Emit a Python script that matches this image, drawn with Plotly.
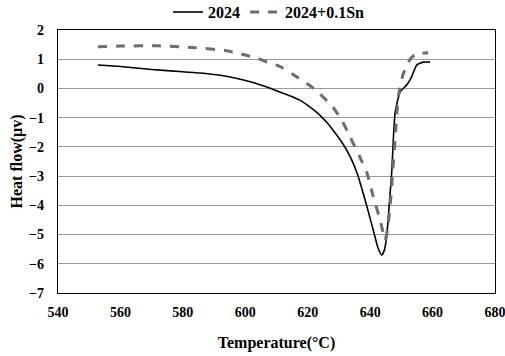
import plotly.graph_objs as go

# DSC curves
temp_2024 = [552.8, 560, 570, 580, 585.5, 592, 597, 601.6, 606, 610.5, 614, 617.5, 620, 623, 626, 628, 631,
             633.6, 636, 637.7, 639.5, 641, 642.5, 643.7, 644.5, 645.3, 646.1, 646.9, 648, 649.6, 651.7, 653.3,
             654.9, 657, 659.2]
heat_2024 = [0.8, 0.75, 0.65, 0.57, 0.53, 0.45, 0.35, 0.23, 0.08, -0.1, -0.24, -0.4, -0.58, -0.83, -1.15, -1.41,
             -1.85, -2.33, -2.95, -3.56, -4.25, -4.85, -5.45, -5.7, -5.55, -5.07, -4.0, -2.88, -0.83, -0.12, 0.12,
             0.4, 0.8, 0.9, 0.9]

temp_sn = [552.8, 560, 572, 583, 593.5, 598, 601.5, 604, 607, 610.5, 612, 616, 620.7, 624, 628, 631, 633.6, 636.5,
           639, 641, 643.2, 644.8, 645.6, 646.4, 647.2, 648, 649, 650.6, 652.8, 654.4, 656.5, 658.6]
heat_sn = [1.43, 1.45, 1.46, 1.4, 1.3, 1.2, 1.1, 1.03, 0.9, 0.78, 0.7, 0.43, 0.1, -0.2, -0.63, -1.1, -1.67, -2.3,
           -2.9, -3.7, -4.5, -5.19, -4.8, -4.04, -2.9, -1.75, -0.3, 0.5, 1.0, 1.16, 1.2, 1.22]

x_ticks = [540, 560, 580, 600, 620, 640, 660, 680]
y_ticks = [2, 1, 0, -1, -2, -3, -4, -5, -6, -7]

font_family = "Liberation Serif"

fig = go.Figure()

fig.add_trace(go.Scatter(
    x=temp_2024, y=heat_2024, mode='lines', name='2024',
    line=dict(color='black', width=1.6, shape='spline', smoothing=0.5),
))
fig.add_trace(go.Scatter(
    x=temp_sn, y=heat_sn, mode='lines', name='2024+0.1Sn',
    line=dict(color='#6e6e6e', width=3, dash='dash', shape='spline', smoothing=0.5),
))

fig.update_layout(
    width=505, height=356,
    margin=dict(l=58, r=10, t=30, b=63, autoexpand=False),
    plot_bgcolor='white', paper_bgcolor='white',
    font=dict(family=font_family, size=14, color='black'),
    legend=dict(orientation='h', x=0.483, xanchor='center', y=1.068, yanchor='middle',
                font=dict(family=font_family, size=16, color='black', weight='bold'),
                itemwidth=30, tracegroupgap=0, bgcolor='rgba(0,0,0,0)'),
    xaxis=dict(range=[540, 680], tickvals=x_ticks, showgrid=False, zeroline=False,
               showline=True, linecolor='black', linewidth=1.2, mirror=True, ticks='',
               ticklabelstandoff=6, ticklabeloverflow='allow',
               tickfont=dict(family=font_family, size=14, weight='bold'),
               title=dict(text='Temperature(°C)', standoff=17,
                          font=dict(family=font_family, size=16, weight='bold'))),
    yaxis=dict(range=[-7, 2], tickvals=y_ticks, showgrid=True, gridcolor='#9a9a9a', gridwidth=1,
               zeroline=False, showline=True, linecolor='black', linewidth=1.2, mirror=True, ticks='',
               ticklabelstandoff=10, ticklabeloverflow='allow',
               tickfont=dict(family=font_family, size=14, weight='bold'),
               title=dict(text='Heat flow(μv)', standoff=2,
                          font=dict(family=font_family, size=16, weight='bold'))),
)

# drop the default body margin so the figure sits at the window's corner
fig.write_html("out.html", config={'displayModeBar': False},
               post_script="document.body.style.margin='0';")
